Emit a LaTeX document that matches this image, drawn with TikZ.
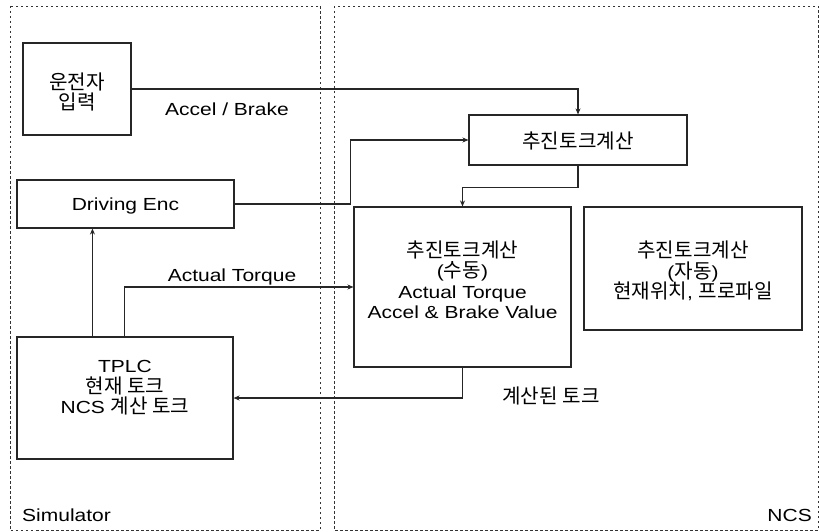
\documentclass[tikz,border=0pt]{standalone}
\usepackage{fontspec}
\setmainfont{Liberation Sans}[FakeStretch=1.2]
\newfontfamily\kr{Noto Sans CJK KR}[Scale=1.15]
\usetikzlibrary{arrows.meta,calc}
\begin{document}
\begin{tikzpicture}[x=1pt,y=-1pt,
  every node/.style={font=\fontsize{17.5}{20.5}\selectfont},
  frame/.style={draw=black!80,line width=0.8pt,dash pattern=on 2.5pt off 2.5pt},
  box/.style={draw=black!85,line width=1.1pt,inner sep=0pt},
  txt/.style={align=center,inner sep=0pt},
  arr/.style={draw=black!85,line width=1.1pt,-{Stealth[length=6pt,width=5pt]}}]
\useasboundingbox (0,0) rectangle (819,532);
% frames
\draw[frame] (10,6) rectangle (320,530);
\draw[frame] (334,6) rectangle (818,530);
\node[txt,anchor=west] (simlab) at (22,515) {Simulator};
\node[txt,anchor=east] (ncslab) at (812,515) {NCS};
% boxes
\node[box,minimum width=108pt,minimum height=92pt] (drv) at (77,89) {};
\node[txt] (drvt) at (77,92) {\kr 운전자\\\kr 입력};
\node[box,minimum width=217pt,minimum height=48pt] (enc) at (125.5,204) {};
\node[txt] (enct) at (125.5,206) {Driving Enc};
\node[box,minimum width=216pt,minimum height=122pt] (tplc) at (125,398) {};
\node[txt] (tplct) at (125,388) {TPLC\\\kr 현재 토크\\NCS {\kr 계산 토크}};
\node[box,minimum width=218pt,minimum height=50pt] (calc) at (578,140) {};
\node[txt] (calct) at (578,141) {\kr 추진토크계산};
\node[box,minimum width=217pt,minimum height=160pt] (man) at (462.5,287) {};
\node[txt] (mant) at (462.5,280) {{\kr 추진토크계산}\\({\kr 수동})\\Actual Torque\\Accel \& Brake Value};
\node[box,minimum width=218pt,minimum height=123pt] (auto) at (693,268.5) {};
\node[txt] (autot) at (693,271) {{\kr 추진토크계산}\\({\kr 자동})\\{\kr 현재위치}, {\kr 프로파일}};
% connectors
\draw[arr] (drv.east) -| (calc.north);
\node[txt] (ablab) at (227,109) {Accel / Brake};
\draw[arr] (enc.east) -- ++(116,0) |- (calc.west);
\draw[arr] (calc.south) -- ++(0,22) -| (man.north);
\draw[arr] ($(tplc.north west)+(108,0)$) |- (man.west);
\node[txt] (atlab) at (232,277) {Actual Torque};
\draw[arr] ($(tplc.north west)+(76,0)$) -- ($(enc.south west)+(76,0)$);
\draw[arr] (man.south) |- (tplc.east);
\node[txt] (ctlab) at (551,396) {\kr 계산된 토크};
\end{tikzpicture}
\end{document}
